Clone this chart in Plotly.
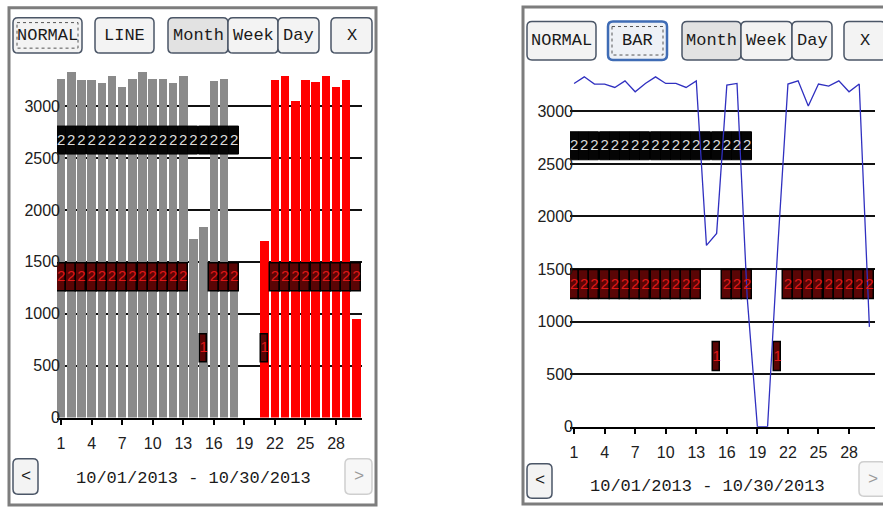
import plotly.graph_objects as go

W, H = 883, 517

# ---------------- data ----------------
days = list(range(1, 31))
usage = [3265, 3328, 3259, 3259, 3227, 3290, 3186, 3265, 3328, 3265,
         3265, 3227, 3290, 1725, 1839, 3249, 3265, 1230, 0, 0,
         1703, 3259, 3290, 3050, 3259, 3240, 3290, 3186, 3259, 950]
gray_last_day = 18

upper_days = list(range(1, 19))
upper_text = ["2"] * len(upper_days)
upper_low, upper_high = 2530, 2800

lower_days = list(range(1, 14)) + [16, 17, 18] + list(range(22, 31))
lower_text = ["2"] * len(lower_days)
lower_low, lower_high = 1215, 1485

one_days = [15, 21]
one_text = ["1", "1"]
one_low, one_high = 530, 800

x_tickvals = list(range(1, 29, 3))
y_tickvals = [0, 500, 1000, 1500, 2000, 2500, 3000]
date_label = "10/01/2013 - 10/30/2013"

left_buttons = ["NORMAL", "LINE", "Month", "Week", "Day", "X"]
right_buttons = ["NORMAL", "BAR", "Month", "Week", "Day", "X"]

# ---------------- helpers ----------------
SANS = "Liberation Sans, Arial, sans-serif"
MONO = "Liberation Mono, Courier New, DejaVu Sans Mono, monospace"


def px(x, y):
    return f"{x / W:.5f},{1 - y / H:.5f}"


def rrect(x0, y0, x1, y1, r):
    return (f"M {px(x0 + r, y0)} L {px(x1 - r, y0)} Q {px(x1, y0)} {px(x1, y0 + r)} "
            f"L {px(x1, y1 - r)} Q {px(x1, y1)} {px(x1 - r, y1)} "
            f"L {px(x0 + r, y1)} Q {px(x0, y1)} {px(x0, y1 - r)} "
            f"L {px(x0, y0 + r)} Q {px(x0, y0)} {px(x0 + r, y0)} Z")


shapes = []
annotations = []


def button(x0, y0, x1, y1, label, fill="#f3f3f3", border="#4b5667", bw=1.5,
           textcolor="#1a1a1a", focus=False, size=17):
    shapes.append(dict(type="path", path=rrect(x0, y0, x1, y1, 5), xref="paper", yref="paper",
                       fillcolor=fill, line=dict(color=border, width=bw), layer="above"))
    if focus:
        shapes.append(dict(type="rect", xref="paper", yref="paper",
                           x0=(x0 + 4) / W, x1=(x1 - 4) / W, y0=1 - (y0 + 5) / H, y1=1 - (y1 - 5) / H,
                           line=dict(color="#555555", width=1, dash="dot"), layer="above"))
    annotations.append(dict(x=(x0 + x1) / 2 / W, y=1 - (y0 + y1) / 2 / H, xref="paper", yref="paper",
                            text=label, showarrow=False, font=dict(family=MONO, size=size, color=textcolor),
                            xanchor="center", yanchor="middle"))


# panel frames
shapes.append(dict(type="rect", xref="paper", yref="paper", x0=9 / W, x1=376 / W, y0=1 - 514 / H, y1=1 - 8 / H,
                   line=dict(color="#7d7d7d", width=3), fillcolor="rgba(0,0,0,0)", layer="above"))
shapes.append(dict(type="rect", xref="paper", yref="paper", x0=523 / W, x1=890 / W, y0=1 - 513 / H, y1=1 - 7 / H,
                   line=dict(color="#7d7d7d", width=3), fillcolor="rgba(0,0,0,0)", layer="above"))

# left buttons
lb = [(13, 82), (95, 154), (168, 228), (228, 278), (278, 319), (331, 372)]
for (a, b), lab in zip(lb, left_buttons):
    button(a, 18, b, 54, lab, fill="#e2e2e2" if lab == "Month" else "#f3f3f3", focus=(lab == "NORMAL"))
button(13, 467, 38, 503, "<", border="#4b5667")
button(345, 467, 372, 503, ">", border="#cfcfcf", textcolor="#9a9a9a", fill="#f7f7f7")
annotations.append(dict(x=193 / W, y=1 - 487 / H, xref="paper", yref="paper", text=date_label, showarrow=False,
                        font=dict(family=MONO, size=17, color="#1a1a1a"), xanchor="center", yanchor="middle"))

# right buttons
rb = [(527, 596), (608, 667), (682, 741), (741, 792), (792, 832), (844, 886)]
for (a, b), lab in zip(rb, right_buttons):
    if lab == "BAR":
        button(a, 22, b, 61, lab, fill="#eef1f6", border="#3f6cb5", bw=2.5, focus=True)
    else:
        button(a, 22, b, 61, lab, fill="#e2e2e2" if lab == "Month" else "#f3f3f3")
button(527, 472, 552, 507, "<", border="#4b5667")
button(859, 470, 886, 505, ">", border="#cfcfcf", textcolor="#9a9a9a", fill="#f7f7f7")
annotations.append(dict(x=707 / W, y=1 - 495 / H, xref="paper", yref="paper", text=date_label, showarrow=False,
                        font=dict(family=MONO, size=17, color="#1a1a1a"), xanchor="center", yanchor="middle"))

# ---------------- traces ----------------
bar_colors = ["#8a8a8a" if d <= gray_last_day else "#ff0000" for d in days]

fig = go.Figure()


def label_traces(xa, ya):
    fig.add_trace(go.Bar(x=upper_days, y=[upper_high - upper_low] * len(upper_days), base=upper_low,
                         width=0.98, marker=dict(color="#050505", line=dict(color="#000000", width=1)),
                         xaxis=xa, yaxis=ya, hoverinfo="skip", showlegend=False))
    fig.add_trace(go.Scatter(x=upper_days, y=[(upper_low + upper_high) / 2] * len(upper_days), text=upper_text,
                             mode="text", textfont=dict(family=SANS, size=15, color="#dcdcdc"),
                             xaxis=xa, yaxis=ya, hoverinfo="skip", showlegend=False))
    fig.add_trace(go.Bar(x=lower_days, y=[lower_high - lower_low] * len(lower_days), base=lower_low,
                         width=0.98, marker=dict(color="#5a0505", line=dict(color="#000000", width=1.5)),
                         xaxis=xa, yaxis=ya, hoverinfo="skip", showlegend=False))
    fig.add_trace(go.Scatter(x=lower_days, y=[(lower_low + lower_high) / 2] * len(lower_days), text=lower_text,
                             mode="text", textfont=dict(family=SANS, size=15, color="#e01818"),
                             xaxis=xa, yaxis=ya, hoverinfo="skip", showlegend=False))
    fig.add_trace(go.Bar(x=one_days, y=[one_high - one_low] * len(one_days), base=one_low,
                         width=0.72, marker=dict(color="#5a0505", line=dict(color="#000000", width=1.5)),
                         xaxis=xa, yaxis=ya, hoverinfo="skip", showlegend=False))
    fig.add_trace(go.Scatter(x=one_days, y=[(one_low + one_high) / 2] * len(one_days), text=one_text,
                             mode="text", textfont=dict(family=SANS, size=15, color="#e01818"),
                             xaxis=xa, yaxis=ya, hoverinfo="skip", showlegend=False))


# left: bars
fig.add_trace(go.Bar(x=days, y=usage, width=0.84, marker=dict(color=bar_colors, line=dict(width=0)),
                     xaxis="x", yaxis="y", hoverinfo="skip", showlegend=False))
label_traces("x", "y")

# right: line
fig.add_trace(go.Scatter(x=days, y=usage, mode="lines", line=dict(color="#3030c0", width=1.3),
                         xaxis="x2", yaxis="y2", hoverinfo="skip", showlegend=False))
label_traces("x2", "y2")

tickfont = dict(family=SANS, size=16, color="#202020")
common_x = dict(range=[0.6, 30.55], tickvals=x_tickvals, ticks="outside", ticklen=6, tickwidth=1.5,
                tickcolor="#000000", showgrid=False, showline=True, linecolor="#000000", linewidth=1.5,
                zeroline=False, tickfont=tickfont, fixedrange=True, ticklabelstandoff=4)
common_y = dict(range=[0, 3400], tickvals=y_tickvals, ticks="", showgrid=True, gridcolor="#111111", gridwidth=2,
                zeroline=False, showline=False, tickfont=tickfont, fixedrange=True, ticklabelstandoff=-4)

fig.update_layout(
    width=W, height=H, margin=dict(l=0, r=0, t=0, b=0),
    paper_bgcolor="#ffffff", plot_bgcolor="rgba(0,0,0,0)",
    barmode="overlay", bargap=0,
    xaxis=dict(domain=[57 / W, 362 / W], anchor="y", **common_x),
    yaxis=dict(domain=[1 - 425 / H, 1 - 65.7 / H], anchor="x", **common_y),
    xaxis2=dict(domain=[570 / W, 875 / W], anchor="y2", **common_x),
    yaxis2=dict(domain=[1 - 434.3 / H, 1 - 70.5 / H], anchor="x2", **common_y),
    shapes=shapes, annotations=annotations, showlegend=False,
)

fig.write_html("out.html", config={"displayModeBar": False},
               post_script="document.body.style.margin='0';document.body.style.overflow='hidden';")
